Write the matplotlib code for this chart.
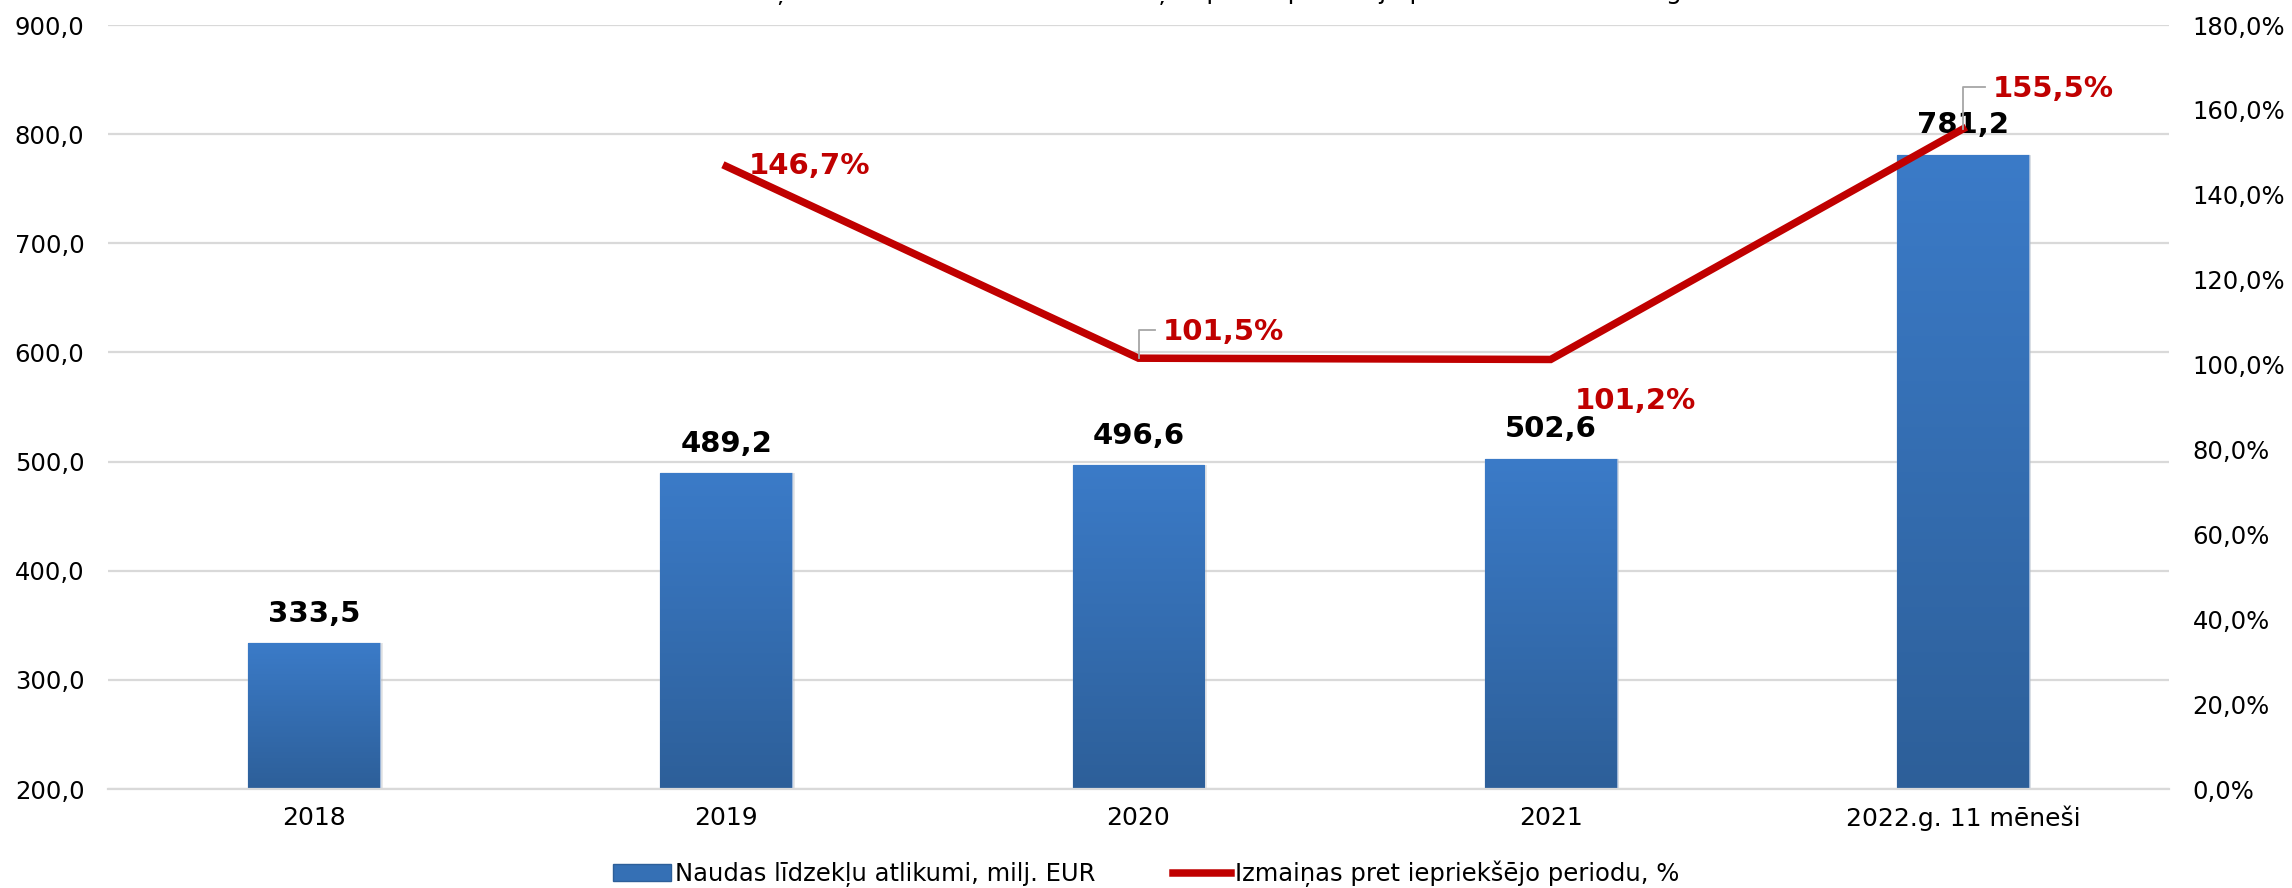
import matplotlib
matplotlib.use("Agg")
import matplotlib.pyplot as plt
import numpy as np
from matplotlib.colors import LinearSegmentedColormap
from matplotlib.patches import Patch
from matplotlib.lines import Line2D

categories = ["2018", "2019", "2020", "2021", "2022.g. 11 mēneši"]
balances = [333.5, 489.2, 496.6, 502.6, 781.2]
change_cats = ["2019", "2020", "2021", "2022.g. 11 mēneši"]
change_pct = [146.7, 101.5, 101.2, 155.5]
left_ticks = [200, 300, 400, 500, 600, 700, 800, 900]
right_ticks = [0, 20, 40, 60, 80, 100, 120, 140, 160, 180]
title = "Naudas līdzekļu atlikumu dinamika un izmaiņas pret iepriekšējo periodu 2018.-2022.g."
legend_bar = "Naudas līdzekļu atlikumi, milj. EUR"
legend_line = "Izmaiņas pret iepriekšējo periodu, %"

plt.rcParams['font.family'] = ['DejaVu Sans']

W, H = 2292, 888
fig = plt.figure(figsize=(W / 100, H / 100), dpi=100)
ax = fig.add_axes([108 / W, (H - 789) / H, 2061 / W, (789 - 25) / H])
ax2 = ax.twinx()

x = np.arange(len(categories)) + 0.5
bw = 0.32

ax.set_xlim(0, len(categories))
ax.set_ylim(200, 900)
ax2.set_ylim(0, 180)

# gridlines
ax.set_yticks(left_ticks)
ax.grid(axis='y', color='#d9d9d9', linewidth=1.6)
ax.set_axisbelow(True)
for s in ['top', 'right', 'left']:
    ax.spines[s].set_visible(False)
ax.spines['bottom'].set_color('#d9d9d9')
ax.spines['bottom'].set_linewidth(1.6)
for s in ax2.spines.values():
    s.set_visible(False)

ax.set_yticklabels([f"{v:.1f}".replace('.', ',') for v in left_ticks], fontsize=17.5)
ax2.set_yticks(right_ticks)
ax2.set_yticklabels([f"{v:.1f}%".replace('.', ',') for v in right_ticks], fontsize=17.5)
ax.tick_params(axis='y', length=0, pad=17)
ax2.tick_params(axis='y', length=0, pad=17)
ax.set_xticks(x)
ax.set_xticklabels(categories, fontsize=18)
ax.tick_params(axis='x', length=0, pad=12)

# bars with gradient
cmap = LinearSegmentedColormap.from_list('bg', ['#2d5f99', '#3b7bc8'])
grad = np.linspace(0, 1, 256).reshape(-1, 1)
bars = ax.bar(x, balances, width=bw, bottom=0, color='none', edgecolor='#9db6d8',
              linewidth=1.0, zorder=2)
for b, v in zip(bars, balances):
    bx, bwid = b.get_x(), b.get_width()
    # soft shadow
    ax.bar(bx + bwid / 2 + 0.006, v - 200, width=bwid, bottom=200, color='#bfbfbf',
           alpha=0.35, linewidth=0, zorder=1.5)
    im = ax.imshow(grad, extent=[bx, bx + bwid, 200, v], origin='lower', cmap=cmap,
                   aspect='auto', zorder=2.1)
    im.set_clip_path(b)
    ax.text(bx + bwid / 2, v + 27, f"{v:.1f}".replace('.', ','), ha='center', va='center',
            fontsize=21, fontweight='bold', color='black', zorder=5)
ax.set_xlim(0, len(categories))
ax.set_ylim(200, 900)

# line
lx = [x[categories.index(c)] for c in change_cats]
ax2.plot(lx, change_pct, color='#c00000', linewidth=5.4, solid_joinstyle='miter', zorder=4)
ax2.set_zorder(ax.get_zorder() + 1)
ax2.patch.set_visible(False)

red = '#c00000'
offsets = [(22, 0, False), (24, 26, True), (24, -42, False), (30, 40, True)]
for xi, v, (dx, dy, leader) in zip(lx, change_pct, offsets):
    lab = f"{v:.1f}%".replace('.', ',')
    ax2.annotate(lab, xy=(xi, v), xytext=(dx, dy), textcoords='offset pixels',
                 ha='left', va='center', fontsize=21, fontweight='bold', color=red, zorder=6)
    if leader:
        px, py = ax2.transData.transform((xi, v))
        inv = fig.transFigure.inverted()
        p0 = inv.transform((px, py))
        p1 = inv.transform((px, py + dy + 2))
        p2 = inv.transform((px + dx - 8, py + dy + 2))
        fig.add_artist(Line2D([p0[0], p1[0], p2[0]], [p0[1], p1[1], p2[1]],
                              color='#a6a6a6', lw=1.3, zorder=3))

# title (clipped at the top edge as in the reference)
fig.text(0.5, 1 + 1 / H, title, ha='center', va='baseline', fontsize=18, color='black')

# legend
handles = [Patch(facecolor='#3570b5', edgecolor='#2d5f99'),
           Line2D([0], [0], color=red, linewidth=5.4)]
fig.legend(handles, [legend_bar, legend_line], loc='center', bbox_to_anchor=(0.5, 1 - 874 / H),
           ncol=2, frameon=False, fontsize=17.5, handlelength=2.4, handletextpad=0.15,
           columnspacing=3.2)

fig.savefig('out.png', dpi=100)
